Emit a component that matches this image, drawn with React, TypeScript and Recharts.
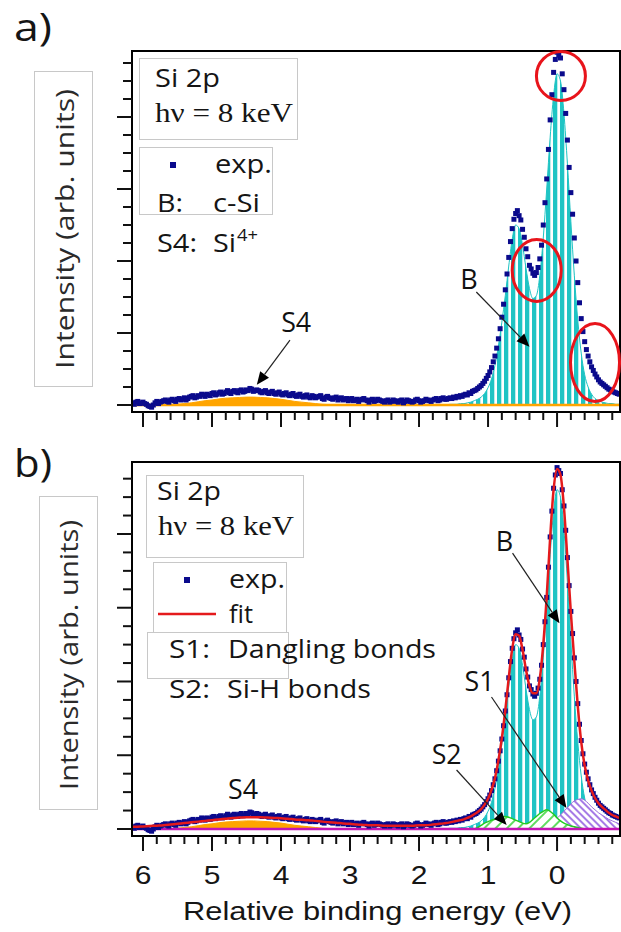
import React from 'react';
import {
  ComposedChart, XAxis, YAxis, Area, Line, Scatter,
  ReferenceLine, ReferenceDot, ReferenceArea,
} from 'recharts';

type Pt = [number, number];

// ---------- axes ----------
const X_DOMAIN: [number, number] = [-0.912, 6.159];
const Y_DOMAIN_A: [number, number] = [-0.097, 4.917];
const Y_DOMAIN_B: [number, number] = [-0.095, 4.976];
const X_TICKS = [6, 5.8, 5.6, 5.4, 5.2, 5, 4.8, 4.6, 4.4, 4.2, 4, 3.8, 3.6, 3.4, 3.2, 3, 2.8, 2.6, 2.4, 2.2, 2, 1.8, 1.6, 1.4, 1.2, 1, 0.8, 0.6, 0.4, 0.2, 0, -0.2, -0.4, -0.6, -0.8];
const Y_TICKS = [0, 0.25, 0.5, 0.75, 1, 1.25, 1.5, 1.75, 2, 2.25, 2.5, 2.75, 3, 3.25, 3.5, 3.75, 4, 4.25, 4.5, 4.75];

// ---------- experimental points (energy eV, intensity) ----------
const EXP_BACKGROUND: Pt[] = [
  [6.15, 0.03], [6.1, 0.04], [6.05, 0.02], [6, 0.04], [5.95, 0.01], [5.9, -0.02], [5.85, 0.0], [5.8, 0.05],
  [5.75, 0.04], [5.7, 0.06], [5.65, 0.05], [5.6, 0.07], [5.55, 0.06], [5.5, 0.08], [5.45, 0.07], [5.4, 0.1],
  [5.35, 0.09], [5.3, 0.12], [5.25, 0.1], [5.2, 0.13], [5.15, 0.15], [5.1, 0.12], [5.05, 0.14], [5, 0.16],
  [4.95, 0.14], [4.9, 0.17], [4.85, 0.15], [4.8, 0.18], [4.75, 0.17], [4.7, 0.19], [4.65, 0.18], [4.6, 0.2],
  [4.55, 0.18], [4.5, 0.21], [4.45, 0.23], [4.4, 0.19], [4.35, 0.21], [4.3, 0.18], [4.25, 0.19], [4.2, 0.17],
  [4.15, 0.18], [4.1, 0.16], [4.05, 0.17], [4, 0.15], [3.95, 0.16], [3.9, 0.14], [3.85, 0.15], [3.8, 0.13],
  [3.75, 0.14], [3.7, 0.12], [3.65, 0.13], [3.6, 0.11], [3.55, 0.13], [3.5, 0.1], [3.45, 0.12], [3.4, 0.09],
  [3.35, 0.11], [3.3, 0.1], [3.25, 0.08], [3.2, 0.11], [3.15, 0.09], [3.1, 0.07], [3.05, 0.09], [3, 0.08],
  [2.95, 0.06], [2.9, 0.08], [2.85, 0.07], [2.8, 0.09], [2.75, 0.06], [2.7, 0.07], [2.65, 0.05], [2.6, 0.08],
  [2.55, 0.06], [2.5, 0.04], [2.45, 0.07], [2.4, 0.05], [2.35, 0.06], [2.3, 0.04], [2.25, 0.07], [2.2, 0.05],
  [2.15, 0.06], [2.1, 0.04], [2.05, 0.07], [2, 0.06], [1.95, 0.05], [1.9, 0.08], [1.85, 0.06], [1.8, 0.07],
  [1.75, 0.09], [1.7, 0.07], [1.65, 0.1], [1.6, 0.08], [1.55, 0.1],
];
const EXP_BACKGROUND_MID: Pt[] = [
  [6.125, 0.01], [6.075, 0.05], [6.025, 0.03], [5.975, 0.02], [5.925, -0.01], [5.875, -0.03], [5.825, 0.03], [5.775, 0.02],
  [5.725, 0.05], [5.675, 0.07], [5.625, 0.04], [5.575, 0.08], [5.525, 0.05], [5.475, 0.09], [5.425, 0.08], [5.375, 0.07],
  [5.325, 0.11], [5.275, 0.13], [5.225, 0.11], [5.175, 0.12], [5.125, 0.14], [5.075, 0.15], [5.025, 0.13], [4.975, 0.17],
  [4.925, 0.15], [4.875, 0.18], [4.825, 0.16], [4.775, 0.2], [4.725, 0.16], [4.675, 0.2], [4.625, 0.17], [4.575, 0.21],
  [4.525, 0.19], [4.475, 0.2], [4.425, 0.22], [4.375, 0.2], [4.325, 0.2], [4.275, 0.17], [4.225, 0.2], [4.175, 0.16],
  [4.125, 0.19], [4.075, 0.15], [4.025, 0.18], [3.975, 0.14], [3.925, 0.17], [3.875, 0.13], [3.825, 0.16], [3.775, 0.12],
  [3.725, 0.15], [3.675, 0.11], [3.625, 0.14], [3.575, 0.1], [3.525, 0.12], [3.475, 0.11], [3.425, 0.13], [3.375, 0.08],
  [3.325, 0.12], [3.275, 0.09], [3.225, 0.1], [3.175, 0.07], [3.125, 0.1], [3.075, 0.08], [3.025, 0.06], [2.975, 0.09],
  [2.925, 0.07], [2.875, 0.05], [2.825, 0.08], [2.775, 0.07], [2.725, 0.04], [2.675, 0.08], [2.625, 0.06], [2.575, 0.07],
  [2.525, 0.05], [2.475, 0.06], [2.425, 0.04], [2.375, 0.07], [2.325, 0.05], [2.275, 0.06], [2.225, 0.03], [2.175, 0.07],
  [2.125, 0.05], [2.075, 0.05], [2.025, 0.08], [1.975, 0.04], [1.925, 0.06], [1.875, 0.07], [1.825, 0.05], [1.775, 0.08],
  [1.725, 0.06], [1.675, 0.09], [1.625, 0.08], [1.575, 0.09],
];
const EXP_PEAKS: Pt[] = [
  [1.525, 0.09], [1.5, 0.11], [1.475, 0.1], [1.45, 0.12], [1.425, 0.11], [1.4, 0.13], [1.375, 0.12], [1.35, 0.14],
  [1.325, 0.15], [1.3, 0.14], [1.275, 0.17], [1.25, 0.16], [1.225, 0.19], [1.2, 0.2], [1.175, 0.21], [1.15, 0.23],
  [1.125, 0.25], [1.1, 0.27], [1.075, 0.3], [1.05, 0.33], [1.025, 0.37], [1, 0.41], [0.975, 0.46], [0.95, 0.52],
  [0.925, 0.6], [0.9, 0.68], [0.875, 0.79], [0.85, 0.92], [0.825, 1.06], [0.8, 1.22], [0.775, 1.4], [0.75, 1.6],
  [0.725, 1.82], [0.7, 2.05], [0.675, 2.27], [0.65, 2.45], [0.625, 2.58], [0.6, 2.66], [0.575, 2.7], [0.55, 2.63],
  [0.525, 2.57], [0.5, 2.44], [0.475, 2.33], [0.45, 2.17], [0.425, 2.06], [0.4, 1.94], [0.375, 1.89], [0.35, 1.83],
  [0.325, 1.8], [0.3, 1.84], [0.275, 1.91], [0.25, 2.03], [0.225, 2.22], [0.2, 2.5], [0.175, 2.81], [0.15, 3.14],
  [0.125, 3.55], [0.1, 3.96], [0.075, 4.31], [0.05, 4.62], [0.025, 4.8], [0, 4.9], [-0.025, 4.86], [-0.05, 4.82],
  [-0.075, 4.6], [-0.1, 4.38], [-0.125, 4.05], [-0.15, 3.68], [-0.175, 3.3], [-0.2, 2.95], [-0.225, 2.65], [-0.25, 2.32],
  [-0.275, 2.0], [-0.3, 1.7], [-0.325, 1.42], [-0.35, 1.2], [-0.375, 1.02], [-0.4, 0.88], [-0.425, 0.77], [-0.45, 0.68],
  [-0.475, 0.6], [-0.5, 0.53], [-0.525, 0.48], [-0.55, 0.43], [-0.575, 0.39], [-0.6, 0.35], [-0.625, 0.32], [-0.65, 0.3],
  [-0.675, 0.28], [-0.7, 0.26], [-0.725, 0.24], [-0.75, 0.22], [-0.775, 0.21], [-0.8, 0.19], [-0.825, 0.18], [-0.85, 0.17],
  [-0.875, 0.16], [-0.9, 0.15],
];

// ---------- fit components ----------
const COMP_B: Pt[] = [
  [1.6, 0], [1.55, 0.01], [1.5, 0.01], [1.45, 0.01], [1.4, 0.02], [1.35, 0.02], [1.3, 0.03], [1.25, 0.04],
  [1.2, 0.06], [1.15, 0.08], [1.1, 0.11], [1.05, 0.16], [1, 0.24], [0.95, 0.36], [0.9, 0.55], [0.85, 0.82],
  [0.8, 1.15], [0.75, 1.52], [0.7, 1.93], [0.65, 2.3], [0.6, 2.5], [0.55, 2.45], [0.5, 2.22], [0.45, 1.9],
  [0.4, 1.62], [0.35, 1.48], [0.3, 1.52], [0.25, 1.8], [0.2, 2.32], [0.15, 3.0], [0.1, 3.72], [0.05, 4.3],
  [0, 4.6], [-0.05, 4.5], [-0.1, 4.05], [-0.15, 3.35], [-0.2, 2.55], [-0.25, 1.8], [-0.3, 1.18], [-0.35, 0.72],
  [-0.4, 0.42], [-0.45, 0.25], [-0.5, 0.15], [-0.55, 0.09], [-0.6, 0.06], [-0.65, 0.04], [-0.7, 0.03], [-0.75, 0.02],
  [-0.8, 0.02], [-0.85, 0.01], [-0.9, 0.01],
];
const COMP_S4: Pt[] = [
  [5.7, 0], [5.6, 0.005], [5.5, 0.01], [5.4, 0.02], [5.3, 0.03], [5.2, 0.045], [5.1, 0.06], [5, 0.07],
  [4.9, 0.085], [4.8, 0.095], [4.7, 0.1], [4.6, 0.105], [4.5, 0.11], [4.4, 0.11], [4.3, 0.105], [4.2, 0.1],
  [4.1, 0.09], [4, 0.08], [3.9, 0.065], [3.8, 0.05], [3.7, 0.04], [3.6, 0.03], [3.5, 0.02], [3.4, 0.01],
  [3.3, 0.005], [3.2, 0],
];
const COMP_S2: Pt[] = [
  [1.2, 0], [1.15, 0.02], [1.1, 0.05], [1.05, 0.08], [1, 0.1], [0.95, 0.12], [0.9, 0.13], [0.85, 0.15],
  [0.8, 0.16], [0.75, 0.17], [0.7, 0.16], [0.65, 0.14], [0.6, 0.12], [0.55, 0.1], [0.5, 0.08], [0.45, 0.07],
  [0.4, 0.09], [0.35, 0.13], [0.3, 0.17], [0.25, 0.21], [0.2, 0.24], [0.15, 0.26], [0.1, 0.24], [0.05, 0.2],
  [0, 0.15], [-0.05, 0.11], [-0.1, 0.08], [-0.15, 0.06], [-0.2, 0.04], [-0.25, 0.03], [-0.3, 0.02], [-0.35, 0.01],
  [-0.4, 0], [-0.45, 0],
];
const COMP_S1: Pt[] = [
  [0.6, 0], [0.55, 0.01], [0.5, 0.02], [0.45, 0.04], [0.4, 0.07], [0.35, 0.1], [0.3, 0.13], [0.25, 0.15],
  [0.2, 0.15], [0.15, 0.14], [0.1, 0.13], [0.05, 0.13], [0, 0.15], [-0.05, 0.19], [-0.1, 0.24], [-0.15, 0.29],
  [-0.2, 0.34], [-0.25, 0.38], [-0.3, 0.4], [-0.35, 0.41], [-0.4, 0.39], [-0.45, 0.35], [-0.5, 0.3], [-0.55, 0.26],
  [-0.6, 0.22], [-0.65, 0.19], [-0.7, 0.16], [-0.75, 0.13], [-0.8, 0.11], [-0.85, 0.09], [-0.9, 0.07],
];
const FIT: Pt[] = [
  [6.15, 0.03], [6.1, 0.03], [6, 0.035], [5.9, 0.04], [5.8, 0.045], [5.7, 0.05], [5.6, 0.06], [5.5, 0.07],
  [5.4, 0.08], [5.3, 0.09], [5.2, 0.1], [5.1, 0.11], [5, 0.12], [4.9, 0.13], [4.8, 0.14], [4.7, 0.15],
  [4.6, 0.155], [4.5, 0.16], [4.4, 0.16], [4.3, 0.16], [4.2, 0.155], [4.1, 0.15], [4, 0.145], [3.9, 0.14],
  [3.8, 0.13], [3.7, 0.125], [3.6, 0.12], [3.5, 0.11], [3.4, 0.1], [3.3, 0.09], [3.2, 0.085], [3.1, 0.075],
  [3, 0.07], [2.9, 0.06], [2.8, 0.055], [2.7, 0.05], [2.6, 0.05], [2.5, 0.045], [2.4, 0.045], [2.3, 0.045],
  [2.2, 0.045], [2.1, 0.045], [2, 0.05], [1.9, 0.05], [1.8, 0.06], [1.7, 0.07], [1.6, 0.08],
  [1.55, 0.09], [1.5, 0.1], [1.45, 0.11], [1.4, 0.12], [1.35, 0.13], [1.3, 0.15], [1.25, 0.17], [1.2, 0.2],
  [1.15, 0.23], [1.1, 0.27], [1.05, 0.33], [1, 0.41], [0.95, 0.53], [0.9, 0.69], [0.85, 0.93], [0.8, 1.23],
  [0.75, 1.61], [0.7, 2.05], [0.65, 2.44], [0.6, 2.64], [0.55, 2.62], [0.5, 2.43], [0.45, 2.16], [0.4, 1.94],
  [0.35, 1.84], [0.3, 1.84], [0.25, 2.04], [0.2, 2.5], [0.15, 3.15], [0.1, 3.95], [0.05, 4.6], [0, 4.88],
  [-0.05, 4.8], [-0.1, 4.36], [-0.15, 3.66], [-0.2, 2.93], [-0.25, 2.28], [-0.3, 1.67], [-0.35, 1.18], [-0.4, 0.86],
  [-0.45, 0.66], [-0.5, 0.52], [-0.55, 0.42], [-0.6, 0.35], [-0.65, 0.3], [-0.7, 0.26], [-0.75, 0.22], [-0.8, 0.19],
  [-0.85, 0.17], [-0.9, 0.15],
];

// ---------- annotations (data coordinates) ----------
type Ann = { text: string; e: number; y: number };
type Arr = { from: Pt; to: Pt };
type Ell = { e: number; y: number; rx: number; ry: number };
const LABELS_A: Ann[] = [{ text: 'B', e: 1.275, y: 1.61 }, { text: 'S4', e: 3.78, y: 1.01 }];
const ARROWS_A: Arr[] = [{ from: [1.17, 1.57], to: [0.4, 0.81] }, { from: [3.87, 0.9], to: [4.35, 0.28] }];
const CIRCLES_A: Ell[] = [
  { e: -0.056, y: 4.57, rx: 24.5, ry: 24.5 },
  { e: 0.295, y: 1.87, rx: 24.5, ry: 31 },
  { e: -0.55, y: 0.59, rx: 24.5, ry: 39 },
];
const LABELS_B: Ann[] = [
  { text: 'B', e: 0.761, y: 3.77 }, { text: 'S1', e: 1.123, y: 1.87 },
  { text: 'S2', e: 1.6, y: 0.88 }, { text: 'S4', e: 4.55, y: 0.41 },
];
const ARROWS_B: Arr[] = [
  { from: [0.645, 3.74], to: [-0.035, 2.79] },
  { from: [0.95, 1.79], to: [-0.136, 0.285] },
  { from: [1.456, 0.8], to: [0.73, 0.054] },
];

// ---------- styling ----------
const NAVY = '#0a0a8c';
const RED = '#e41a1c';
const CYAN = '#1fc4c4';
const ORANGE = '#ffa500';
const SANS = '"Open Sans", sans-serif';
const ARIAL = '"Liberation Sans", Arial, sans-serif';
const SERIF = '"Liberation Serif", serif';
const INK = '#151515';

const rows = (pts: Pt[]) => pts.map(([e, y]) => ({ e, y }));
const EXP_ROWS = rows([...EXP_BACKGROUND, ...EXP_BACKGROUND_MID, ...EXP_PEAKS]);
const isMajor = (v: number) => Math.abs(v - Math.round(v)) < 1e-6;

const makeXTick = (labels: boolean) => (p: any) => {
  const { x, y, payload } = p;
  const v = payload.value as number;
  const maj = isMajor(v);
  return (
    <g>
      <line x1={x} x2={x} y1={y} y2={y + (maj ? 15 : 8)} stroke="#111" strokeWidth={2} />
      {labels && maj ? (
        <text transform={`translate(${x},${y + 48}) scale(1.2,1)`} textAnchor="middle" fontFamily={ARIAL} fontSize={25} fill={INK}>
          {Math.round(v)}
        </text>
      ) : null}
    </g>
  );
};
const YTick = (p: any) => {
  const { x, y, payload } = p;
  const maj = isMajor(payload.value);
  return <line x1={x - (maj ? 15 : 9)} x2={x} y1={y} y2={y} stroke="#111" strokeWidth={2} />;
};

const square = (p: any) => <rect x={p.cx - 2.5} y={p.cy - 2.5} width={5} height={5} fill={NAVY} />;

const arrowShape = (p: any) => {
  const { x1, y1, x2, y2 } = p;
  const dx = x2 - x1, dy = y2 - y1;
  const len = Math.hypot(dx, dy) || 1;
  const ux = dx / len, uy = dy / len;
  const hl = 13, hw = 5.5;
  const bx = x2 - ux * hl, by = y2 - uy * hl;
  const pts = `${x2},${y2} ${bx - uy * hw},${by + ux * hw} ${bx + uy * hw},${by - ux * hw}`;
  return (
    <g>
      <line x1={x1} y1={y1} x2={bx} y2={by} stroke="#222" strokeWidth={1.2} />
      <polygon points={pts} fill="#000" />
    </g>
  );
};

const annLabel = (text: string) => (p: any) => (
  <text x={p.cx} y={p.cy} textAnchor="middle" fontFamily={SANS} fontSize={27} fill="#111"
    textLength={text.length > 1 ? 30 : undefined} lengthAdjust="spacingAndGlyphs">{text}</text>
);
const ellipseShape = (rx: number, ry: number) => (p: any) => (
  <ellipse cx={p.cx} cy={p.cy} rx={rx} ry={ry} fill="none" stroke="#e8141b" strokeWidth={3} />
);

const Defs = ({ id }: { id: string }) => (
  <defs>
    <pattern id={`vs-${id}`} patternUnits="userSpaceOnUse" width={7} height={10}>
      <rect x={0} y={0} width={4.3} height={10} fill={CYAN} />
    </pattern>
    <pattern id={`gh-${id}`} patternUnits="userSpaceOnUse" width={8} height={8} patternTransform="rotate(45)">
      <rect x={0} y={0} width={8} height={8} fill="#fff" />
      <line x1={1} y1={0} x2={1} y2={8} stroke="#2bd12b" strokeWidth={1.5} />
    </pattern>
    <pattern id={`ph-${id}`} patternUnits="userSpaceOnUse" width={5} height={5} patternTransform="rotate(-45)">
      <rect x={0} y={0} width={5} height={5} fill="#fff" />
      <line x1={1} y1={0} x2={1} y2={5} stroke="#a67ce6" strokeWidth={2} />
    </pattern>
  </defs>
);

function PanelA() {
  return (
    <ComposedChart width={621} height={440} margin={{ top: 51, right: 1, bottom: 8, left: 92 }}>
      <Defs id="a" />
      <XAxis dataKey="e" type="number" domain={X_DOMAIN} reversed allowDataOverflow ticks={X_TICKS} interval={0}
        tickSize={0} tickMargin={0} tickLine={false} axisLine={false} height={20} tick={makeXTick(false)} />
      <YAxis type="number" domain={Y_DOMAIN_A} allowDataOverflow ticks={Y_TICKS} interval={0}
        tickSize={0} tickMargin={0} tickLine={false} axisLine={false} width={40} tick={YTick} />
      <Area data={rows(COMP_B)} dataKey="y" type="monotone" stroke={CYAN} strokeWidth={1} fill="url(#vs-a)" fillOpacity={1} isAnimationActive={false} zIndex={100} />
      <Area data={rows(COMP_S4)} dataKey="y" type="monotone" stroke={ORANGE} strokeWidth={1} fill={ORANGE} fillOpacity={1} isAnimationActive={false} zIndex={110} />
      <ReferenceLine y={0} stroke={ORANGE} strokeWidth={2.5} ifOverflow="visible" zIndex={120} />
      <Scatter data={EXP_ROWS} dataKey="y" shape={square} isAnimationActive={false} zIndex={600} />
      <ReferenceArea x1={X_DOMAIN[1]} x2={X_DOMAIN[0]} y1={Y_DOMAIN_A[0]} y2={Y_DOMAIN_A[1]} fill="none" fillOpacity={0}
        stroke="#000" strokeWidth={2} ifOverflow="visible" zIndex={800} />
      {CIRCLES_A.map((c, i) => (
        <ReferenceDot key={`c${i}`} x={c.e} y={c.y} r={1} ifOverflow="visible" shape={ellipseShape(c.rx, c.ry)} zIndex={900} />
      ))}
      {ARROWS_A.map((a, i) => (
        <ReferenceLine key={`a${i}`} segment={[{ x: a.from[0], y: a.from[1] }, { x: a.to[0], y: a.to[1] }]}
          ifOverflow="visible" shape={arrowShape} zIndex={910} />
      ))}
      {LABELS_A.map((l, i) => (
        <ReferenceDot key={`l${i}`} x={l.e} y={l.y} r={1} ifOverflow="visible" shape={annLabel(l.text)} zIndex={920} />
      ))}
    </ComposedChart>
  );
}

function PanelB() {
  return (
    <ComposedChart width={621} height={492} margin={{ top: 22, right: 1, bottom: 36, left: 92 }}>
      <Defs id="b" />
      <XAxis dataKey="e" type="number" domain={X_DOMAIN} reversed allowDataOverflow ticks={X_TICKS} interval={0}
        tickSize={0} tickMargin={0} tickLine={false} axisLine={false} height={60} tick={makeXTick(true)} />
      <YAxis type="number" domain={Y_DOMAIN_B} allowDataOverflow ticks={Y_TICKS} interval={0}
        tickSize={0} tickMargin={0} tickLine={false} axisLine={false} width={40} tick={YTick} />
      <Area data={rows(COMP_B)} dataKey="y" type="monotone" stroke={CYAN} strokeWidth={1} fill="url(#vs-b)" fillOpacity={1} isAnimationActive={false} zIndex={100} />
      <Area data={rows(COMP_S1)} dataKey="y" type="monotone" stroke="#9b6ddc" strokeWidth={1} fill="url(#ph-b)" fillOpacity={1} isAnimationActive={false} zIndex={110} />
      <Area data={rows(COMP_S2)} dataKey="y" type="monotone" stroke="#22cc22" strokeWidth={1.5} fill="url(#gh-b)" fillOpacity={1} isAnimationActive={false} zIndex={120} />
      <Area data={rows(COMP_S4)} dataKey="y" type="monotone" stroke={ORANGE} strokeWidth={1} fill={ORANGE} fillOpacity={1} isAnimationActive={false} zIndex={130} />
      <ReferenceLine y={0} stroke="#c414b4" strokeWidth={2.5} ifOverflow="visible" zIndex={140} />
      <Scatter data={EXP_ROWS} dataKey="y" shape={square} isAnimationActive={false} zIndex={600} />
      <Line data={rows(FIT)} dataKey="y" type="monotone" stroke={RED} strokeWidth={2.5} dot={false} isAnimationActive={false} zIndex={700} />
      <ReferenceArea x1={X_DOMAIN[1]} x2={X_DOMAIN[0]} y1={Y_DOMAIN_B[0]} y2={Y_DOMAIN_B[1]} fill="none" fillOpacity={0}
        stroke="#000" strokeWidth={2} ifOverflow="visible" zIndex={800} />
      {ARROWS_B.map((a, i) => (
        <ReferenceLine key={`a${i}`} segment={[{ x: a.from[0], y: a.from[1] }, { x: a.to[0], y: a.to[1] }]}
          ifOverflow="visible" shape={arrowShape} zIndex={910} />
      ))}
      {LABELS_B.map((l, i) => (
        <ReferenceDot key={`l${i}`} x={l.e} y={l.y} r={1} ifOverflow="visible" shape={annLabel(l.text)} zIndex={920} />
      ))}
    </ComposedChart>
  );
}

const T = (p: { x: number; y: number; len?: number; size?: number; family?: string; children: React.ReactNode; color?: string }) => (
  <text x={p.x} y={p.y} fontSize={p.size ?? 26} fontFamily={p.family ?? SANS} fill={p.color ?? INK}
    textLength={p.len} lengthAdjust="spacingAndGlyphs">{p.children}</text>
);

function Overlay() {
  const box = '#c8c8c8';
  return (
    <svg width={621} height={932} style={{ position: 'absolute', left: 0, top: 0, pointerEvents: 'none' }}>
      {/* panel a */}
      <T x={14} y={41} size={38} len={38}>a)</T>
      <rect x={34.5} y={71.5} width={58} height={315} fill="none" stroke={box} strokeWidth={1} />
      <text transform="translate(74,229) rotate(-90)" textAnchor="middle" fontFamily={SANS} fontSize={26} fill="#2a2a2a"
        textLength={280} lengthAdjust="spacingAndGlyphs">Intensity (arb. units)</text>
      <rect x={139.5} y={58.5} width={158} height={81} fill="none" stroke={box} strokeWidth={1} />
      <T x={155} y={87} len={65}>Si 2p</T>
      <T x={155} y={122} len={138} size={27} family={SERIF}>hν = 8 keV</T>
      <rect x={139.5} y={147.5} width={133} height={67} fill="none" stroke={box} strokeWidth={1} />
      <rect x={170} y={162} width={6} height={6} fill={NAVY} />
      <T x={215} y={173} len={57}>exp.</T>
      <T x={157} y={212} len={26}>B:</T>
      <T x={213} y={212} len={47}>c-Si</T>
      <T x={157} y={252} len={40}>S4:</T>
      <T x={213} y={252} len={23}>Si</T>
      <T x={237} y={241} len={21} size={17}>4+</T>

      {/* panel b */}
      <T x={14} y={477} size={38} len={38}>b)</T>
      <rect x={39.5} y={496.5} width={58} height={313} fill="none" stroke={box} strokeWidth={1} />
      <text transform="translate(78,655) rotate(-90)" textAnchor="middle" fontFamily={SANS} fontSize={26} fill="#2a2a2a"
        textLength={270} lengthAdjust="spacingAndGlyphs">Intensity (arb. units)</text>
      <rect x={146.5} y={475.5} width={157} height={82} fill="none" stroke={box} strokeWidth={1} />
      <T x={157} y={500} len={64}>Si 2p</T>
      <T x={158} y={535} len={136} size={27} family={SERIF}>hν = 8 keV</T>
      <rect x={153.5} y={562.5} width={133} height={70} fill="none" stroke={box} strokeWidth={1} />
      <rect x={147.5} y={632.5} width={141} height={46} fill="none" stroke={box} strokeWidth={1} />
      <rect x={184} y={577} width={6} height={6} fill={NAVY} />
      <T x={229} y={588} len={56}>exp.</T>
      <line x1={158} x2={216} y1={614} y2={614} stroke={RED} strokeWidth={2.5} />
      <T x={229} y={623} len={24}>fit</T>
      <T x={169} y={658} len={41}>S1:</T>
      <T x={228} y={658} len={208}>Dangling bonds</T>
      <T x={169} y={698} len={41}>S2:</T>
      <T x={227} y={698} len={144}>Si-H bonds</T>

      {/* x axis title */}
      <T x={183} y={920} len={389} size={25} family={ARIAL}>Relative binding energy (eV)</T>
    </svg>
  );
}

export default function App() {
  return (
    <div style={{ position: 'absolute', left: 0, top: 0, width: 621, height: 932, background: '#fff', overflow: 'hidden' }}>
      <div style={{ position: 'absolute', left: 0, top: 0 }}><PanelA /></div>
      <div style={{ position: 'absolute', left: 0, top: 440 }}><PanelB /></div>
      <Overlay />
    </div>
  );
}
